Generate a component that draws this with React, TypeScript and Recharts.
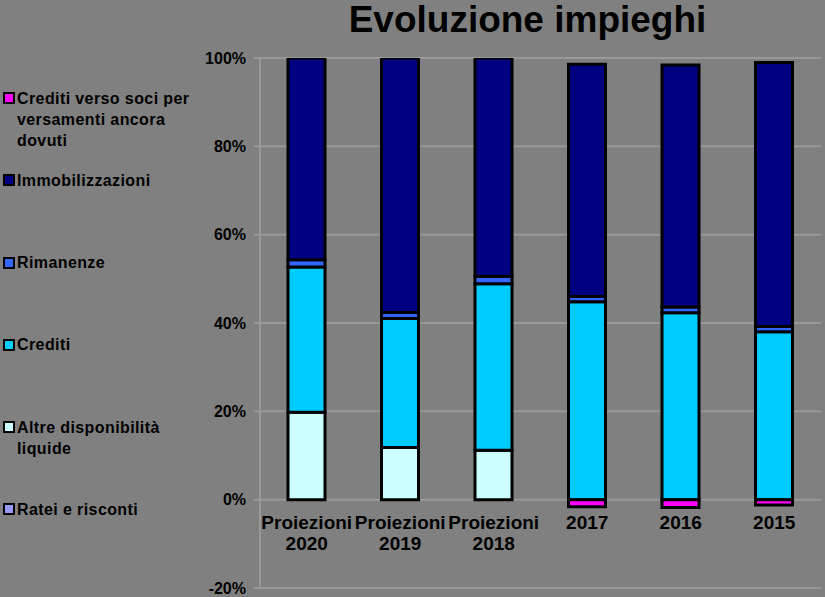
import { BarChart, Bar, XAxis, YAxis, CartesianGrid, Legend } from 'recharts';

const categories = ['Proiezioni 2020', 'Proiezioni 2019', 'Proiezioni 2018', '2017', '2016', '2015'];

// stack order bottom -> top (legend shows it reversed)
const rateiRisconti = [0, 0, 0, 0, 0, 0];
const altreDisponibilita = [19.8, 11.8, 11.2, 0, 0, 0];
const crediti = [32.9, 29.2, 37.7, 44.8, 42.3, 38.0];
const rimanenze = [1.6, 1.4, 1.7, 1.2, 1.3, 1.2];
const immobilizzazioni = [45.7, 57.6, 49.4, 52.6, 54.8, 59.8];
const creditiSoci = [0, 0, 0, -1.6, -1.8, -1.2];

const yTicks = [-20, 0, 20, 40, 60, 80, 100];
const Y_MIN = -20;
const Y_MAX = 100;

const series = [
  { key: 'ratei', name: 'Ratei e risconti', color: '#9999FF', values: rateiRisconti },
  { key: 'altre', name: 'Altre disponibilità liquide', color: '#CCFFFF', values: altreDisponibilita },
  { key: 'crediti', name: 'Crediti', color: '#00CCFF', values: crediti },
  { key: 'rimanenze', name: 'Rimanenze', color: '#3366FF', values: rimanenze },
  { key: 'immob', name: 'Immobilizzazioni', color: '#000080', values: immobilizzazioni },
  { key: 'soci', name: 'Crediti verso soci per versamenti ancora dovuti', color: '#FF00FF', values: creditiSoci },
];

const data = categories.map((label, i) => {
  const row: { label: string; [k: string]: string | number } = { label };
  series.forEach((s) => {
    row[s.key] = s.values[i];
  });
  return row;
});

const FONT = '"Liberation Sans", Arial, sans-serif';
const W = 825;
const H = 597;
const MARGIN = { top: 58, right: 4, bottom: 0, left: 0 };
const X_AXIS_H = 9;
const PLOT_H = H - MARGIN.top - MARGIN.bottom - X_AXIS_H;
// distance from plot bottom up to the 0% line
const ZERO_SHIFT = (PLOT_H * (0 - Y_MIN)) / (Y_MAX - Y_MIN);

function CategoryTick(props: any) {
  const { x, y, payload } = props;
  const parts = String(payload.value).split(' ');
  const y0 = y - ZERO_SHIFT;
  return (
    <g>
      {parts.map((p, i) => (
        <text
          key={i}
          x={x}
          y={y0 + 29 + i * 21}
          textAnchor="middle"
          fontFamily={FONT}
          fontWeight="bold"
          fontSize={19}
          fill="#000"
        >
          {p}
        </text>
      ))}
    </g>
  );
}

function LegendBox() {
  const items = [...series].reverse();
  return (
    <div style={{ width: 200 }}>
      {items.map((s) => (
        <div key={s.key} style={{ position: 'relative', height: 82.3 }}>
          <div
            style={{
              position: 'absolute',
              left: 3,
              top: 4.5,
              width: 8,
              height: 8,
              background: s.color,
              border: '2px solid #000',
            }}
          />
          <div
            style={{
              position: 'absolute',
              left: 17,
              top: 0,
              width: 190,
              fontFamily: FONT,
              fontWeight: 'bold',
              fontSize: 16,
              letterSpacing: 0.4,
              lineHeight: '21px',
              color: '#000',
            }}
          >
            {s.name}
          </div>
        </div>
      ))}
    </div>
  );
}

export default function App() {
  return (
    <div style={{ position: 'absolute', left: 0, top: 0, width: W, height: H, background: '#808080', overflow: 'hidden' }}>
      <div
        style={{
          position: 'absolute',
          left: 0,
          width: 1055,
          top: 1,
          textAlign: 'center',
          fontFamily: FONT,
          fontWeight: 'bold',
          fontSize: 37,
          lineHeight: '37px',
          color: '#000',
        }}
      >
        Evoluzione impieghi
      </div>
      <BarChart width={W} height={H} data={data} margin={MARGIN} stackOffset="sign" barSize={37}>
        <CartesianGrid vertical={false} stroke="#999999" strokeWidth={2} />
        <XAxis
          dataKey="label"
          height={X_AXIS_H}
          axisLine={false}
          tickLine={false}
          tickSize={0}
          tickMargin={0}
          interval={0}
          tick={<CategoryTick />}
        />
        <YAxis
          width={260}
          domain={[Y_MIN, Y_MAX]}
          ticks={yTicks}
          tickFormatter={(v) => `${v}%`}
          axisLine={{ stroke: '#999999', strokeWidth: 2 }}
          tickLine={{ stroke: '#999999', strokeWidth: 2 }}
          tickSize={6}
          tickMargin={8}
          tick={{ fill: '#000', fontSize: 16, fontWeight: 'bold', fontFamily: FONT }}
          allowDataOverflow
        />
        <Legend
          layout="vertical"
          align="center"
          verticalAlign="middle"
          wrapperStyle={{ left: 0, top: 87.5, width: 210 }}
          content={() => <LegendBox />}
        />
        {series.map((s) => (
          <Bar
            key={s.key}
            dataKey={s.key}
            name={s.name}
            stackId="a"
            fill={s.color}
            stroke="#000"
            strokeWidth={3}
            isAnimationActive={false}
          />
        ))}
      </BarChart>
    </div>
  );
}
